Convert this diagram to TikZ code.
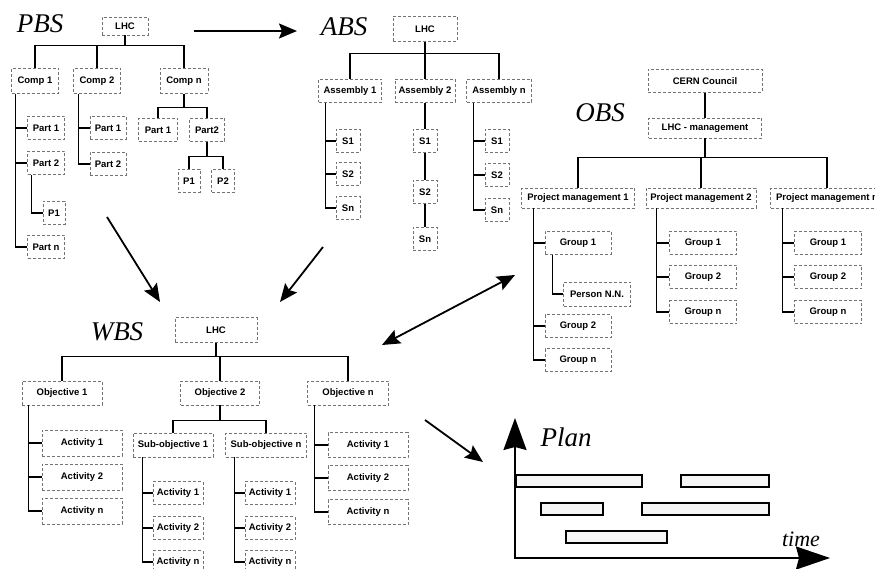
\documentclass[tikz,border=0pt]{standalone}
\usepackage{fontspec}
\setmainfont{Liberation Serif}
\setsansfont{Liberation Sans}
\usetikzlibrary{arrows.meta}

\begin{document}
\begin{tikzpicture}[x=1pt,y=-1pt, title/.style={font=\fontsize{27}{27}\selectfont\itshape,inner sep=0pt}, unit/.style={draw=black!55,densely dashed,line width=0.6pt,fill=white,inner sep=1pt,minimum height=23,font=\sffamily\bfseries\fontsize{9.5}{10}\selectfont}, wire/.style={line width=1.2pt}, flow/.style={line width=1.8pt,-{Stealth[length=18pt,width=15pt,inset=3pt]}}, flowboth/.style={line width=1.8pt,{Stealth[length=18pt,width=15pt,inset=3pt]}-{Stealth[length=18pt,width=15pt,inset=3pt]}}, axis/.style={line width=1.8pt,{Stealth[length=32pt,width=23pt,inset=3pt]}-{Stealth[length=34pt,width=23pt,inset=3pt]}}, bar/.style={draw,line width=1.8pt,fill=black!4}]
      \path[fill=white,use as bounding box] (0,0) rectangle (875,569);

      % PBS
      \node[title] (pbs) at (40,24) {PBS};
      \node[unit,minimum width=46,minimum height=18] (pLHC) at (125,26) {LHC};
      \node[unit,minimum width=47,minimum height=25] (pC1) at (35,81) {Comp 1};
      \node[unit,minimum width=47,minimum height=25] (pC2) at (97,81) {Comp 2};
      \node[unit,minimum width=48,minimum height=25] (pCn) at (184,81) {Comp n};
      \node[unit,minimum width=37] (pC1a) at (46,128) {Part 1};
      \node[unit,minimum width=37] (pC1b) at (46,163) {Part 2};
      \node[unit,minimum width=22] (pC1b1) at (54,213) {P1};
      \node[unit,minimum width=37] (pC1n) at (46,247) {Part n};
      \node[unit,minimum width=36] (pC2a) at (108,128) {Part 1};
      \node[unit,minimum width=36] (pC2b) at (108,164) {Part 2};
      \node[unit,minimum width=39] (pCna) at (158,130) {Part 1};
      \node[unit,minimum width=35] (pCnb) at (207,130) {Part2};
      \node[unit,minimum width=22] (pCnb1) at (189,181) {P1};
      \node[unit,minimum width=23] (pCnb2) at (223,181) {P2};

      \draw[wire] (pLHC.south) -- ++(0,10) -| (pC1.north);
      \draw[wire] (pLHC.south) -- ++(0,10) -| (pC2.north);
      \draw[wire] (pLHC.south) -- ++(0,10) -| (pCn.north);
      \draw[wire] ([xshift=4]pC1.south west) |- (pC1a.west);
      \draw[wire] ([xshift=4]pC1.south west) |- (pC1b.west);
      \draw[wire] ([xshift=4]pC1.south west) |- (pC1n.west);
      \draw[wire] ([xshift=4.5]pC1b.south west) |- (pC1b1.west);
      \draw[wire] ([xshift=5.5]pC2.south west) |- (pC2a.west);
      \draw[wire] ([xshift=5.5]pC2.south west) |- (pC2b.west);
      \draw[wire] (pCn.south) -- ++(0,13.5) -| (pCna.north);
      \draw[wire] (pCn.south) -- ++(0,13.5) -| (pCnb.north);
      \draw[wire] (pCnb.south) -- ++(0,15) -| (pCnb1.north);
      \draw[wire] (pCnb.south) -- ++(0,15) -| (pCnb2.north);

      % ABS
      \node[title] (abs) at (344,27) {ABS};
      \node[unit,minimum width=64,minimum height=25] (aLHC) at (425,29) {LHC};
      \node[unit,minimum width=63] (aA1) at (350,91) {Assembly 1};
      \node[unit,minimum width=60] (aA2) at (425,91) {Assembly 2};
      \node[unit,minimum width=65] (aAn) at (499,91) {Assembly n};
      \node[unit,minimum width=24] (aA1a) at (348,141) {S1};
      \node[unit,minimum width=24] (aA1b) at (348,174) {S2};
      \node[unit,minimum width=24] (aA1n) at (348,208) {Sn};
      \node[unit,minimum width=24] (aA2a) at (425,141) {S1};
      \node[unit,minimum width=24] (aA2b) at (425,192) {S2};
      \node[unit,minimum width=24] (aA2n) at (425,239) {Sn};
      \node[unit,minimum width=24] (aAna) at (497,141) {S1};
      \node[unit,minimum width=24] (aAnb) at (497,175) {S2};
      \node[unit,minimum width=24] (aAnn) at (497,210) {Sn};

      \draw[wire] (aLHC.south) -- ++(0,11.5) -| (aA1.north);
      \draw[wire] (aLHC.south) -- (aA2.north);
      \draw[wire] (aLHC.south) -- ++(0,11.5) -| (aAn.north);
      \draw[wire] ([xshift=7.5]aA1.south west) |- (aA1a.west);
      \draw[wire] ([xshift=7.5]aA1.south west) |- (aA1b.west);
      \draw[wire] ([xshift=7.5]aA1.south west) |- (aA1n.west);
      \draw[wire] (aA2) -- (aA2a) -- (aA2b) -- (aA2n);
      \draw[wire] ([xshift=7.5]aAn.south west) |- (aAna.west);
      \draw[wire] ([xshift=7.5]aAn.south west) |- (aAnb.west);
      \draw[wire] ([xshift=7.5]aAn.south west) |- (aAnn.west);

      % OBS
      \node[title] (obs) at (600,113) {OBS};
      \node[unit,minimum width=114] (oCERN) at (705,81) {CERN Council};
      \node[unit,minimum width=113,minimum height=20] (oLHC) at (705,128) {LHC - management};
      \node[unit,minimum width=113,minimum height=20] (oP1) at (578,198) {Project management 1};
      \node[unit,minimum width=110,minimum height=20] (oP2) at (701,198) {Project management 2};
      \node[unit,minimum width=113,minimum height=20] (oPn) at (827,198) {Project management n};
      \node[unit,minimum width=66] (oP1a) at (578,243) {Group 1};
      \node[unit,minimum width=67,minimum height=24] (oP1a1) at (597,294) {Person N.N.};
      \node[unit,minimum width=66] (oP1b) at (578,326) {Group 2};
      \node[unit,minimum width=66] (oP1n) at (578,360) {Group n};
      \node[unit,minimum width=67] (oP2a) at (703,243) {Group 1};
      \node[unit,minimum width=67] (oP2b) at (703,277) {Group 2};
      \node[unit,minimum width=67] (oP2n) at (703,312) {Group n};
      \node[unit,minimum width=67] (oPna) at (828,243) {Group 1};
      \node[unit,minimum width=67] (oPnb) at (828,277) {Group 2};
      \node[unit,minimum width=67] (oPnn) at (828,312) {Group n};

      \draw[wire] (oCERN) -- (oLHC);
      \draw[wire] (oLHC.south) -- ++(0,19) -| (oP1.north);
      \draw[wire] (oLHC.south) -- ++(0,19) -| (oP2.north);
      \draw[wire] (oLHC.south) -- ++(0,19) -| (oPn.north);
      \draw[wire] ([xshift=12.5]oP1.south west) |- (oP1a.west);
      \draw[wire] ([xshift=12.5]oP1.south west) |- (oP1b.west);
      \draw[wire] ([xshift=12.5]oP1.south west) |- (oP1n.west);
      \draw[wire] ([xshift=8]oP1a.south west) |- (oP1a1.west);
      \draw[wire] ([xshift=11]oP2.south west) |- (oP2a.west);
      \draw[wire] ([xshift=11]oP2.south west) |- (oP2b.west);
      \draw[wire] ([xshift=11]oP2.south west) |- (oP2n.west);
      \draw[wire] ([xshift=12.5]oPn.south west) |- (oPna.west);
      \draw[wire] ([xshift=12.5]oPn.south west) |- (oPnb.west);
      \draw[wire] ([xshift=12.5]oPn.south west) |- (oPnn.west);

      % WBS
      \node[title] (wbs) at (117,332) {WBS};
      \node[unit,minimum width=82,minimum height=25] (wLHC) at (216,330) {LHC};
      \node[unit,minimum width=80,minimum height=24] (wO1) at (62,393) {Objective 1};
      \node[unit,minimum width=79,minimum height=24] (wO2) at (220,393) {Objective 2};
      \node[unit,minimum width=81,minimum height=24] (wOn) at (348,393) {Objective n};
      \node[unit,minimum width=80,minimum height=26] (wO1a) at (82,443) {Activity 1};
      \node[unit,minimum width=80,minimum height=26] (wO1b) at (82,477) {Activity 2};
      \node[unit,minimum width=80,minimum height=26] (wO1n) at (82,511) {Activity n};
      \node[unit,minimum width=80,minimum height=24] (wS1) at (173,445) {Sub-objective 1};
      \node[unit,minimum width=81,minimum height=24] (wSn) at (266,445) {Sub-objective n};
      \node[unit,minimum width=50] (wS1a) at (178,493) {Activity 1};
      \node[unit,minimum width=50] (wS1b) at (178,528) {Activity 2};
      \node[unit,minimum width=50] (wS1n) at (178,562) {Activity n};
      \node[unit,minimum width=50] (wSna) at (270,493) {Activity 1};
      \node[unit,minimum width=50] (wSnb) at (270,528) {Activity 2};
      \node[unit,minimum width=50] (wSnn) at (270,562) {Activity n};
      \node[unit,minimum width=80,minimum height=25] (wOna) at (368,445) {Activity 1};
      \node[unit,minimum width=80,minimum height=25] (wOnb) at (368,478) {Activity 2};
      \node[unit,minimum width=80,minimum height=25] (wOnn) at (368,512) {Activity n};

      \draw[wire] (wLHC.south) -- ++(0,13.5) -| (wO1.north);
      \draw[wire] (wLHC.south) -- ++(0,13.5) -| (wO2.north);
      \draw[wire] (wLHC.south) -- ++(0,13.5) -| (wOn.north);
      \draw[wire] ([xshift=7]wO1.south west) |- (wO1a.west);
      \draw[wire] ([xshift=7]wO1.south west) |- (wO1b.west);
      \draw[wire] ([xshift=7]wO1.south west) |- (wO1n.west);
      \draw[wire] (wO2.south) -- ++(0,15) -| (wS1.north);
      \draw[wire] (wO2.south) -- ++(0,15) -| (wSn.north);
      \draw[wire] ([xshift=10]wS1.south west) |- (wS1a.west);
      \draw[wire] ([xshift=10]wS1.south west) |- (wS1b.west);
      \draw[wire] ([xshift=10]wS1.south west) |- (wS1n.west);
      \draw[wire] ([xshift=9.5]wSn.south west) |- (wSna.west);
      \draw[wire] ([xshift=9.5]wSn.south west) |- (wSnb.west);
      \draw[wire] ([xshift=9.5]wSn.south west) |- (wSnn.west);
      \draw[wire] ([xshift=7.5]wOn.south west) |- (wOna.west);
      \draw[wire] ([xshift=7.5]wOn.south west) |- (wOnb.west);
      \draw[wire] ([xshift=7.5]wOn.south west) |- (wOnn.west);

      % big arrows between the structures
      \coordinate (pbsOut) at (194,31);
      \coordinate (absIn) at (297,31);
      \coordinate (pbsDown) at (107,217);
      \coordinate (absDown) at (323,247);
      \coordinate (wbsInL) at (160,302);
      \coordinate (wbsInR) at (280,302);
      \coordinate (wbsSide) at (382,345);
      \coordinate (obsSide) at (515,275);
      \coordinate (wbsOut) at (425,420);
      \coordinate (planIn) at (483,462);
      \draw[flow] (pbsOut) -- (absIn);
      \draw[flow] (pbsDown) -- (wbsInL);
      \draw[flow] (absDown) -- (wbsInR);
      \draw[flowboth] (wbsSide) -- (obsSide);
      \draw[flow] (wbsOut) -- (planIn);

      % Plan
      \coordinate (origin) at (515,558);
      \coordinate (upTip) at (515,418);
      \coordinate (rightTip) at (830,558);
      \draw[axis] (upTip) -- (origin) -- (rightTip);
      \node[title] (plan) at (566,437) {Plan};
      \node[title,font=\fontsize{22}{22}\selectfont\itshape] (time) at (801,539) {time};
      \draw[bar] (516,475) rectangle (642,487);
      \draw[bar] (681,475) rectangle (769,487);
      \draw[bar] (541,503) rectangle (603,515);
      \draw[bar] (642,503) rectangle (769,515);
      \draw[bar] (566,531) rectangle (667,543);
    \end{tikzpicture}
\end{document}
